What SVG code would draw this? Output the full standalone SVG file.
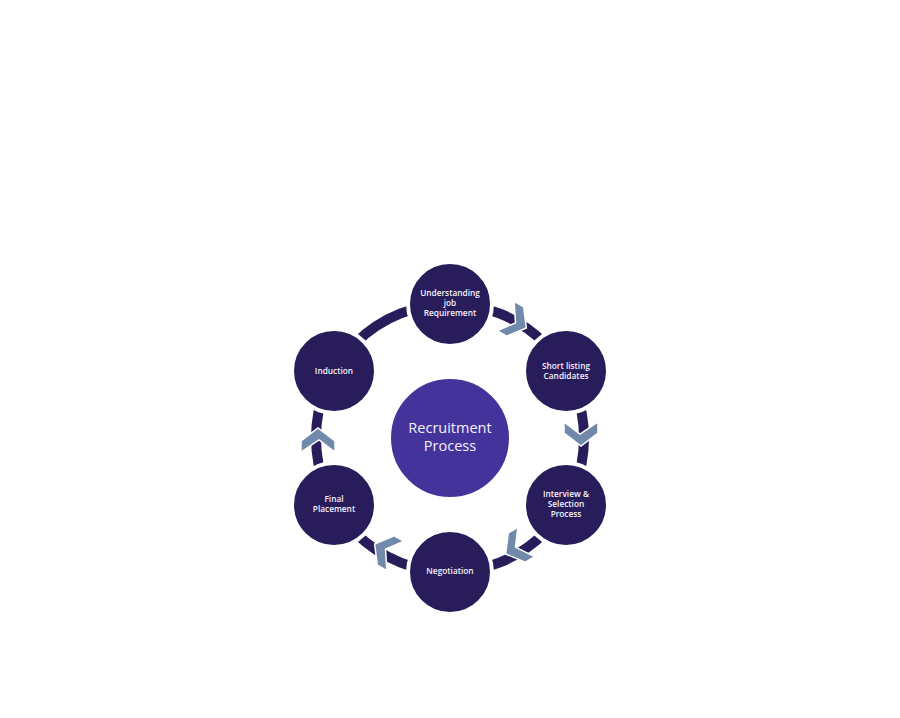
<svg xmlns="http://www.w3.org/2000/svg" width="900" height="718" viewBox="0 0 900 718">
<style>
.node{fill:#291c5b;stroke:#ffffff;stroke-width:4}
.lbl{font-family:"Open Sans","Liberation Sans",sans-serif;font-size:8.3px;fill:#f4f2fb;text-anchor:middle;font-weight:600}
.ctr{font-family:"Open Sans","Liberation Sans",sans-serif;font-size:14.5px;fill:#f4f2fb;text-anchor:middle}
.chev{fill:#7189aa;stroke:#ffffff;stroke-width:1.5}
</style>
<defs>
<polygon id="chv" points="-12,-17 -1,-17 12,0 -1,17 -12,17 0,1"/>
</defs>
<rect width="900" height="718" fill="#ffffff"/>
<g id="connectors">
<circle cx="450" cy="438" r="134" fill="none" stroke="#291c5b" stroke-width="10"/>
<use href="#chv" class="chev" transform="translate(516,322) rotate(30)"/>
<use href="#chv" class="chev" transform="translate(581,434) rotate(90)"/>
<use href="#chv" class="chev" transform="translate(516,548) rotate(150)"/>
<use href="#chv" class="chev" transform="translate(385,550) rotate(210)"/>
<use href="#chv" class="chev" transform="translate(318,440) rotate(270)"/>
</g>
<g id="center">
<circle cx="450" cy="438" r="60" fill="#45339c" stroke="#ffffff" stroke-width="2"/>
<text class="ctr" x="450" y="433">Recruitment</text>
<text class="ctr" x="450" y="451">Process</text>
</g>
<g id="n1">
<circle class="node" cx="450" cy="304" r="42"/>
<text class="lbl" x="450" y="296">Understanding</text>
<text class="lbl" x="450" y="306">job</text>
<text class="lbl" x="450" y="316">Requirement</text>
</g>
<g id="n2">
<circle class="node" cx="566" cy="371" r="42"/>
<text class="lbl" x="566" y="369">Short listing</text>
<text class="lbl" x="566" y="379">Candidates</text>
</g>
<g id="n3">
<circle class="node" cx="566" cy="505" r="42"/>
<text class="lbl" x="566" y="497">Interview &amp;</text>
<text class="lbl" x="566" y="507">Selection</text>
<text class="lbl" x="566" y="517">Process</text>
</g>
<g id="n4">
<circle class="node" cx="450" cy="572" r="42"/>
<text class="lbl" x="450" y="574">Negotiation</text>
</g>
<g id="n5">
<circle class="node" cx="334" cy="505" r="42"/>
<text class="lbl" x="334" y="502">Final</text>
<text class="lbl" x="334" y="512">Placement</text>
</g>
<g id="n6">
<circle class="node" cx="334" cy="371" r="42"/>
<text class="lbl" x="334" y="374">Induction</text>
</g>
</svg>
